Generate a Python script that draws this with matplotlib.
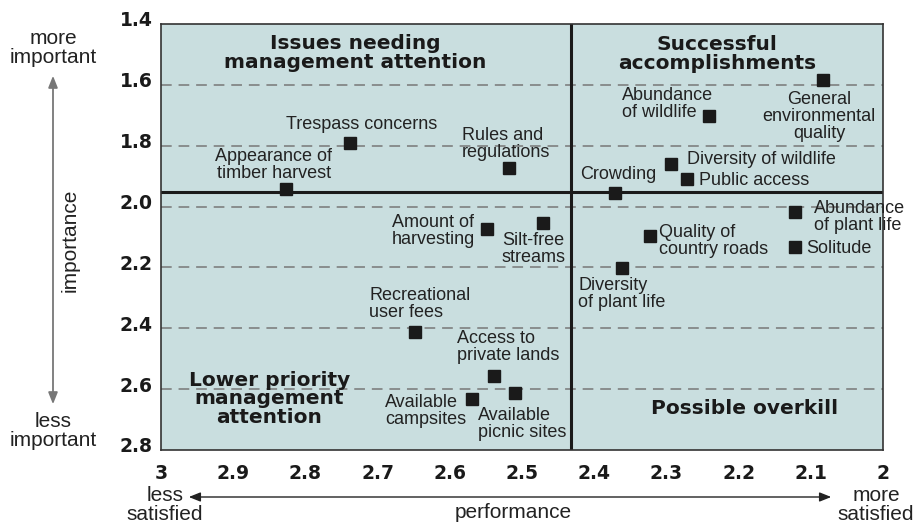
import matplotlib.pyplot as plt
import matplotlib.transforms as mtransforms
from matplotlib.patches import FancyArrowPatch

# performance (x) and importance (y) scores per item
names = ["Trespass concerns", "Appearance of\ntimber harvest", "Rules and\nregulations",
         "Abundance\nof wildlife", "General\nenvironmental\nquality", "Diversity of wildlife",
         "Public access", "Crowding", "Abundance\nof plant life", "Solitude",
         "Quality of\ncountry roads", "Diversity\nof plant life", "Amount of\nharvesting",
         "Silt-free\nstreams", "Recreational\nuser fees", "Access to\nprivate lands",
         "Available\ncampsites", "Available\npicnic sites"]
performance = [2.738, 2.827, 2.518, 2.241, 2.083, 2.294, 2.271, 2.371, 2.122, 2.122,
               2.323, 2.361, 2.548, 2.471, 2.648, 2.539, 2.569, 2.510]
importance = [1.791, 1.942, 1.873, 1.702, 1.584, 1.860, 1.909, 1.955, 2.018, 2.133,
              2.097, 2.202, 2.074, 2.054, 2.412, 2.557, 2.632, 2.613]

x_ticks = [3, 2.9, 2.8, 2.7, 2.6, 2.5, 2.4, 2.3, 2.2, 2.1, 2]
x_tick_labels = ["3", "2.9", "2.8", "2.7", "2.6", "2.5", "2.4", "2.3", "2.2", "2.1", "2"]
y_ticks = [1.4, 1.6, 1.8, 2.0, 2.2, 2.4, 2.6, 2.8]
y_tick_labels = ["1.4", "1.6", "1.8", "2.0", "2.2", "2.4", "2.6", "2.8"]
mean_perf = 2.432
mean_imp = 1.952

# label placement: offset in points from the marker, horizontal alignment
label_pos = [((8, 13), "center"), ((-8.6, 17.3), "center"), ((-34, 17), "left"),
             ((-62.6, 8.3), "left"), ((-2.9, -26.6), "center"), ((11.5, 2.9), "left"),
             ((8.6, -1.4), "left"), ((2, 13), "center"), ((13.7, -3.6), "left"),
             ((7.9, -0.7), "left"), ((6.5, -3.6), "left"), ((-31.7, -18.7), "left"),
             ((-8.6, -1.1), "right"), ((-29.5, -18.7), "left"), ((-33, 19.8), "left"),
             ((-26.6, 21.2), "left"), ((-62.6, -9), "left"), ((-26.6, -22.3), "left")]

W, H = 917, 525
fig = plt.figure(figsize=(W / 100, H / 100), dpi=100)
ax = fig.add_axes([161 / W, 1 - 450 / H, 722 / W, 426 / H])
ax.set_facecolor("#c9dedf")
ax.set_xlim(3, 2)
ax.set_ylim(2.8, 1.4)

for yv in y_ticks[1:-1]:
    ax.axhline(yv, color="#777777", lw=1.1, ls=(0, (7, 4.5)), zorder=1)
ax.axvline(mean_perf, color="#1a1a1a", lw=2.2, zorder=2)
ax.axhline(mean_imp, color="#1a1a1a", lw=2.2, zorder=2)

ax.plot(performance, importance, "s", color="#1a1a1a", ms=8, zorder=3)

for name, x, y, (off, ha) in zip(names, performance, importance, label_pos):
    ax.annotate(name, (x, y), xytext=off, textcoords="offset points", ha=ha, va="center",
                fontsize=13, family="Liberation Sans", color="#222222", linespacing=1.0,
                multialignment=ha if ha != "right" else "left", annotation_clip=False)

title_kw = dict(fontsize=14.5, fontweight="bold", family="DejaVu Sans", color="#1a1a1a",
                ha="center", va="center", linespacing=0.95)
ax.text(2.731, 1.495, "Issues needing\nmanagement attention", **title_kw)
ax.text(2.230, 1.499, "Successful\naccomplishments", **title_kw)
ax.text(2.850, 2.632, "Lower priority\nmanagement\nattention", **title_kw)
ax.text(2.192, 2.665, "Possible overkill", **title_kw)

ax.set_xticks(x_ticks)
ax.set_xticklabels(x_tick_labels)
ax.set_yticks(y_ticks)
ax.set_yticklabels(y_tick_labels)
ax.tick_params(length=0, labelsize=13.5, colors="#1a1a1a")
ax.tick_params(axis="x", pad=10)
ax.tick_params(axis="y", pad=6)
for lbl in ax.get_xticklabels() + ax.get_yticklabels():
    lbl.set_fontweight("bold")
    lbl.set_family("DejaVu Sans")
shift = mtransforms.ScaledTranslation(0, 5 / 100, fig.dpi_scale_trans)
for lbl in ax.get_yticklabels():
    lbl.set_transform(lbl.get_transform() + shift)
for s in ax.spines.values():
    s.set_color("#333333")
    s.set_linewidth(1.2)


def fx(px):
    return px / W


def fy(py):
    return 1 - py / H


side_kw = dict(fontsize=15, family="Liberation Sans", color="#222222", ha="center",
               va="center", linespacing=1.0)
fig.text(fx(53), fy(48), "more\nimportant", **side_kw)
fig.text(fx(53), fy(431), "less\nimportant", **side_kw)
fig.text(fx(70), fy(240), "importance", rotation=90, **side_kw)
fig.text(fx(165), fy(505), "less\nsatisfied", **side_kw)
fig.text(fx(876), fy(505), "more\nsatisfied", **side_kw)
fig.text(fx(513), fy(513), "performance", **side_kw)

# importance arrow (grey) and performance arrow (black)
fig.add_artist(FancyArrowPatch(
    (fx(53), fy(407)), (fx(53), fy(73)), transform=fig.transFigure,
    arrowstyle="<|-|>,head_length=0.5,head_width=0.2", color="#777777", lw=1.3,
    mutation_scale=14))
fig.add_artist(FancyArrowPatch(
    (fx(186), fy(497)), (fx(834), fy(497)), transform=fig.transFigure,
    arrowstyle="<|-|>,head_length=0.5,head_width=0.2", color="#222222", lw=1.0,
    mutation_scale=14))

fig.savefig("out.png", dpi=100)
